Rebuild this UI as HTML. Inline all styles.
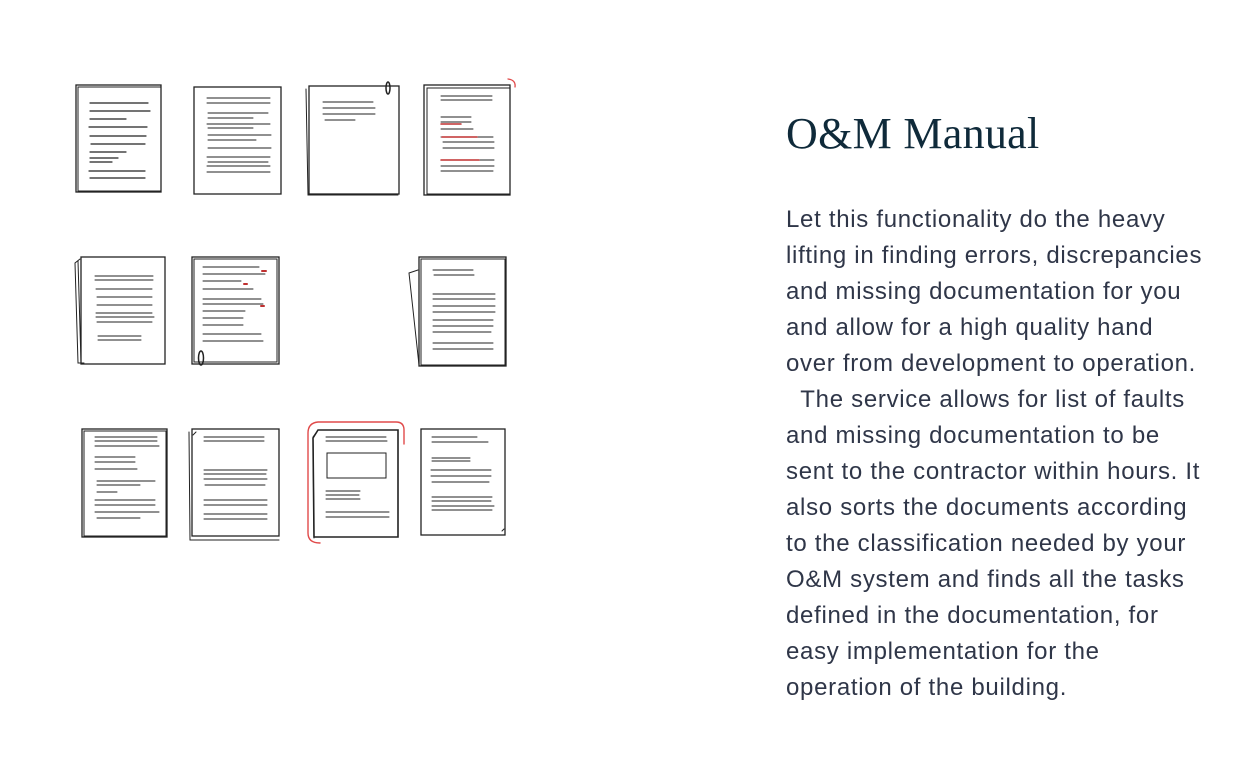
<!DOCTYPE html>
<html><head><meta charset="utf-8"><style>
html,body{margin:0;padding:0;background:#fff;width:1250px;height:772px;overflow:hidden}
svg{position:absolute;left:0;top:0}
h1{position:absolute;left:786px;top:106px;margin:0;font-family:"Liberation Serif",serif;font-weight:400;font-size:44px;line-height:56px;color:#0f2a3a;letter-spacing:0.3px}
.t{position:absolute;left:786px;top:202px;margin:0;font-family:"Liberation Sans",sans-serif;font-size:24px;line-height:36px;color:#2f3648;white-space:pre;letter-spacing:0.7px}
</style></head><body>
<svg width="1250" height="772" viewBox="0 0 1250 772" fill="none" stroke="#222" stroke-linecap="round">
<g stroke-width="1.3">
<rect x="76" y="85" width="85" height="107"/><rect x="78" y="87" width="83" height="104" stroke-width="1"/>
<path d="M90 103h58M90 111h60M90 119h36M89 127h58M90 136h56M91 144h54M90 152h36M90 158h28M90 162h22M89 171h56M90 178h55" stroke-width="1.2"/>
<rect x="194" y="87" width="87" height="107"/>
<path d="M207 98h63M207 103h63M208 113h60M208 118h45M207 124h63M208 128h45M208 135h63M208 140h48M208 148h63M207 157h63M208 162h60M207 166h63M207 172h63" stroke-width="1"/>
<rect x="309" y="86" width="90" height="108"/><path d="M306 89l2 106h90" stroke-width="1"/>
<path d="M323 102h50M323 108h52M323 114h52M325 120h30" stroke-width="1"/>
<ellipse cx="388" cy="88" rx="2" ry="6" stroke-width="1.5"/>
<rect x="424" y="85" width="86" height="110"/><rect x="427" y="88" width="83" height="106" stroke-width="1"/>
<path d="M441 96h51M441 100h51M441 117h30M441 122h30M441 129h32M441 137h52M443 142h51M443 148h51M441 160h53M441 166h53M441 171h52" stroke-width="1"/>
<path d="M441 124h20M442 137h35M441 160h38" stroke="#c03030" stroke-width="1.5"/>
<path d="M508 79q8 1 7 8" stroke="#e04a4a" stroke-width="1.3"/>
<rect x="81" y="257" width="84" height="107"/><path d="M80 259l-5 4 3 100h6M78 261l3 101" stroke-width="1"/>
<path d="M95 276h58M95 280h58M96 289h56M97 297h55M97 305h55M96 313h56M96 317h58M97 322h55M98 336h43M98 340h43" stroke-width="1"/>
<rect x="192" y="257" width="87" height="107"/><rect x="194" y="259" width="83" height="103" stroke-width="1"/>
<path d="M203 267h56M203 274h62M203 281h38M203 289h50M203 299h58M203 304h60M203 311h42M203 318h40M203 325h40M203 334h58M203 341h60" stroke-width="1"/>
<path d="M262 271h4M244 284h3M261 306h3" stroke="#c03030" stroke-width="2"/>
<ellipse cx="201" cy="358" rx="2.5" ry="7" stroke-width="1.5"/>
<rect x="419" y="257" width="87" height="109"/><rect x="421" y="259" width="84" height="106" stroke-width="1"/>
<path d="M418 270l-9 3 10 92" stroke-width="1"/>
<path d="M433 270h40M434 275h40M433 294h62M433 299h62M433 306h62M433 312h62M433 320h60M433 326h60M433 332h58M433 343h60M433 349h60" stroke-width="1"/>
<rect x="82" y="429" width="85" height="108"/><rect x="84" y="431" width="82" height="105" stroke-width="1"/>
<path d="M95 437h62M95 441h62M95 446h64M95 457h40M95 462h40M95 469h42M97 481h58M97 485h43M97 492h20M95 500h60M95 505h60M95 512h64M97 518h43" stroke-width="1"/>
<rect x="192" y="429" width="87" height="107"/><path d="M189 432l1 108h89" stroke-width="1"/>
<path d="M193 435l3-3M204 437h60M204 441h60M204 470h63M204 474h62M204 479h63M205 485h60M204 500h63M204 505h63M204 514h63M204 519h63" stroke-width="1"/>
<path d="M318 430h80v107h-84l-1-99z" stroke-width="1.6"/><path d="M316 433l-3 4 1 101" stroke-width="1"/>
<path d="M326 437h60M326 441h61M327 453h59v25h-59z M326 491h34M326 495h33M326 499h34M326 512h63M326 517h63" stroke-width="1"/>
<path d="M320 543q-12 0-12-10v-100q0-10 10-11h78q8 0 8 8v14" stroke="#e04a4a" stroke-width="1.4"/>
<rect x="421" y="429" width="84" height="106"/>
<path d="M432 437h45M432 442h56M432 458h38M432 461h38M431 470h60M431 476h60M432 482h57M432 497h60M432 501h59M432 506h62M432 510h60M502 531l2-2" stroke-width="1"/>
</g>
</svg>
<h1>O&amp;M Manual</h1>
<p class="t">Let this functionality do the heavy
lifting in finding errors, discrepancies
and missing documentation for you
and allow for a high quality hand
over from development to operation.
  The service allows for list of faults
and missing documentation to be
sent to the contractor within hours. It
also sorts the documents according
to the classification needed by your
O&amp;M system and finds all the tasks
defined in the documentation, for
easy implementation for the
operation of the building.</p>
</body></html>
